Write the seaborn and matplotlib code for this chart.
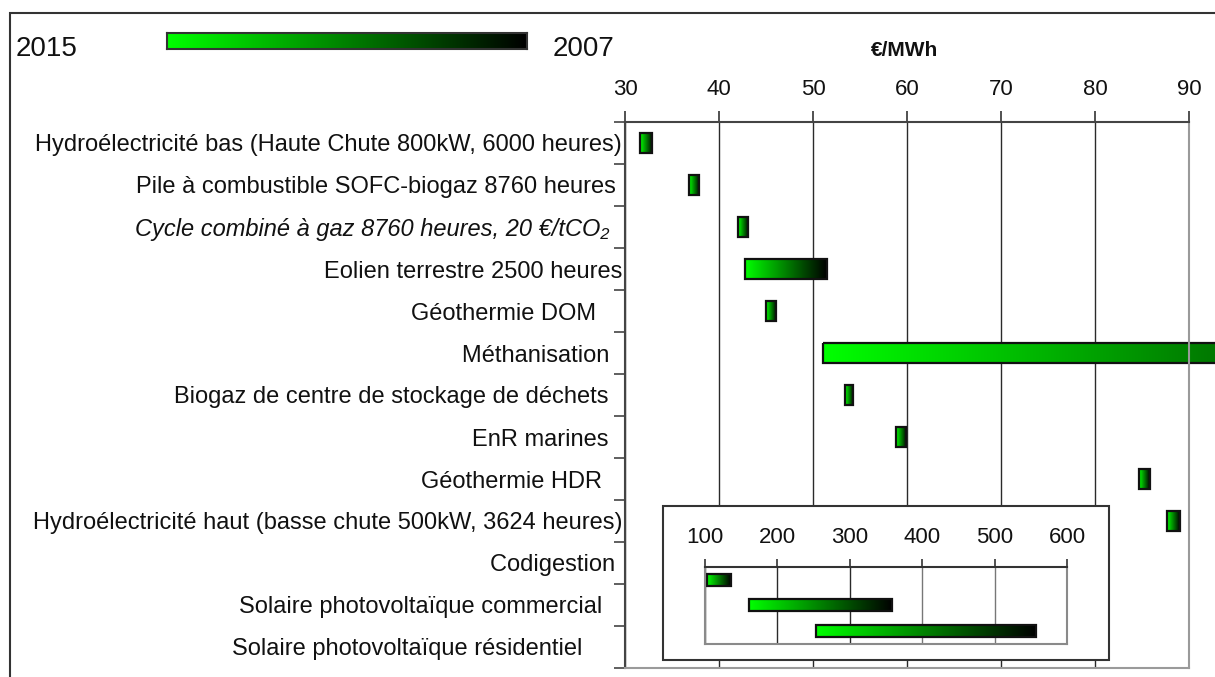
import numpy as np
import pandas as pd
import matplotlib.pyplot as plt
from matplotlib.colors import LinearSegmentedColormap
from matplotlib.patches import Rectangle
import seaborn as sns

# filières (cost range, €/MWh, from 2015 value to 2007 value)
categories = [
    "Hydroélectricité bas (Haute Chute 800kW, 6000 heures)",
    "Pile à combustible SOFC-biogaz 8760 heures ",
    "Cycle combiné à gaz 8760 heures, 20 €/tCO₂  ",
    "Eolien terrestre 2500 heures",
    "Géothermie DOM    ",
    "Méthanisation  ",
    "Biogaz de centre de stockage de déchets  ",
    "EnR marines  ",
    "Géothermie HDR   ",
    "Hydroélectricité haut (basse chute 500kW, 3624 heures)",
    "Codigestion ",
    "Solaire photovoltaïque commercial   ",
    "Solaire photovoltaïque résidentiel      ",
]
low = [31.6, 36.8, 42.0, 42.8, 45.0, 51.1, 53.4, 58.8, 84.7, 87.7, 103, 161, 253]
high = [32.9, 37.9, 43.1, 51.5, 46.1, 130, 54.3, 59.9, 85.85, 89.0, 136, 359, 557]
main_ticks = [30, 40, 50, 60, 70, 80, 90]

# the three expensive ones go in the zoom box
inset_categories = categories[10:]
inset_low = low[10:]
inset_high = high[10:]
inset_ticks = [100, 200, 300, 400, 500, 600]

sns.set_theme(style="white")
plt.rcParams['font.family'] = ['Liberation Sans', 'DejaVu Sans']

W, H = 1215, 677
def fx(px):
    return px / W
def fy(py):
    return 1 - py / H

green = LinearSegmentedColormap.from_list("g", ["#00ff00", "#000000"])
grad = np.linspace(0, 1, 256).reshape(1, -1)


def range_bars(ax, cats, lo, hi, width, unclipped=()):
    df = pd.DataFrame({"cat": cats, "hi": hi})
    sns.barplot(data=df, x="hi", y="cat", orient="h", width=width, color="#00ff00",
                errorbar=None, ax=ax)
    for i, (p, a, b) in enumerate(zip(ax.patches, lo, hi)):
        p.set_x(a)
        p.set_width(b - a)
        y0, y1 = p.get_y(), p.get_y() + p.get_height()
        im = ax.imshow(grad, cmap=green, aspect="auto", extent=[a, b, y1, y0],
                       interpolation="bilinear", zorder=1.9)
        p.set_facecolor("none")
        p.set_edgecolor("#111111")
        p.set_linewidth(1.6)
        p.set_zorder(2)
        if i in unclipped:
            im.set_clip_on(False)
            p.set_clip_on(False)
    ax.set_xlabel("")
    ax.set_ylabel("")


fig = plt.figure(figsize=(12.15, 6.77), dpi=100)

# main chart
ax = fig.add_axes([fx(625), fy(668), fx(1189) - fx(625), fy(122) - fy(668)])
range_bars(ax, categories, low, high, 0.47, unclipped=(5,))
ax.set_xlim(30, 90)
ax.set_ylim(12.5, -0.5)
ax.xaxis.tick_top()
ax.set_xticks(main_ticks)
ax.tick_params(axis="x", length=8, width=1.2, color="#333333", pad=7.5,
               labelsize=16, labelcolor="#111111", direction="out")
ax.set_yticks(range(len(categories)))
ax.set_yticklabels(categories, fontsize=17, color="#111111")
ax.get_yticklabels()[2].set_style("italic")
ax.set_yticks(np.arange(-0.5, len(categories), 1), minor=True)
ax.tick_params(axis="y", which="major", length=0, pad=2)
ax.tick_params(axis="y", which="minor", length=8, width=1.2, color="#444444",
               direction="out", left=True)
ax.grid(axis="x", color="#2a2a2a", lw=1)
ax.set_axisbelow(True)
for side, c in [("top", "#444444"), ("left", "#444444"), ("right", "#9a9a9a"), ("bottom", "#9a9a9a")]:
    ax.spines[side].set_visible(True)
    ax.spines[side].set_color(c)
    ax.spines[side].set_linewidth(1.5)
    ax.spines[side].set_zorder(3)

# zoom box for the solar / codigestion ranges
fig.patches.append(Rectangle((fx(663), fy(660)), fx(1109) - fx(663), fy(505.7) - fy(660),
                             transform=fig.transFigure, facecolor="white",
                             edgecolor="#333333", lw=1.5, zorder=3))
axi = fig.add_axes([fx(704.7), fy(643.7), fx(1067) - fx(704.7), fy(567) - fy(643.7)])
axi.set_zorder(4)
range_bars(axi, inset_categories, inset_low, inset_high, 0.47)
axi.set_xlim(100, 600)
axi.set_ylim(2.5, -0.5)
axi.xaxis.tick_top()
axi.set_xticks(inset_ticks)
axi.set_yticks([])
axi.tick_params(axis="x", length=6, width=1.2, color="#333333", pad=8,
                labelsize=16, labelcolor="#111111", direction="out")
axi.grid(axis="x", color="#2a2a2a", lw=1)
for gl in axi.get_xgridlines()[3:]:
    gl.set_color("#777777")
axi.set_axisbelow(True)
for side, c in [("top", "#333333"), ("left", "#8a8a8a"), ("right", "#8a8a8a"), ("bottom", "#8a8a8a")]:
    axi.spines[side].set_visible(True)
    axi.spines[side].set_color(c)
    axi.spines[side].set_linewidth(1.5)

# colour legend 2015 -> 2007
axl = fig.add_axes([fx(167), fy(49), fx(527) - fx(167), fy(33) - fy(49)])
axl.imshow(grad, cmap=green, aspect="auto", interpolation="bilinear")
axl.set_xticks([])
axl.set_yticks([])
for s in axl.spines.values():
    s.set_visible(True)
    s.set_color("#333333")
    s.set_linewidth(1.5)
fig.text(fx(16), fy(49), "2015", fontsize=20, ha="left", va="center", color="#111111")
fig.text(fx(553), fy(49), "2007", fontsize=20, ha="left", va="center", color="#111111")
fig.text(fx(905), fy(50), "€/MWh", fontsize=15, fontweight="bold", ha="center",
         va="center", color="#111111")

# outer frame
fig.patches.append(Rectangle((fx(10), -0.05), 1.1, fy(13) + 0.05, transform=fig.transFigure,
                             fill=False, edgecolor="#333333", lw=1.5, zorder=10, clip_on=False))

fig.savefig("out.png", dpi=100)
